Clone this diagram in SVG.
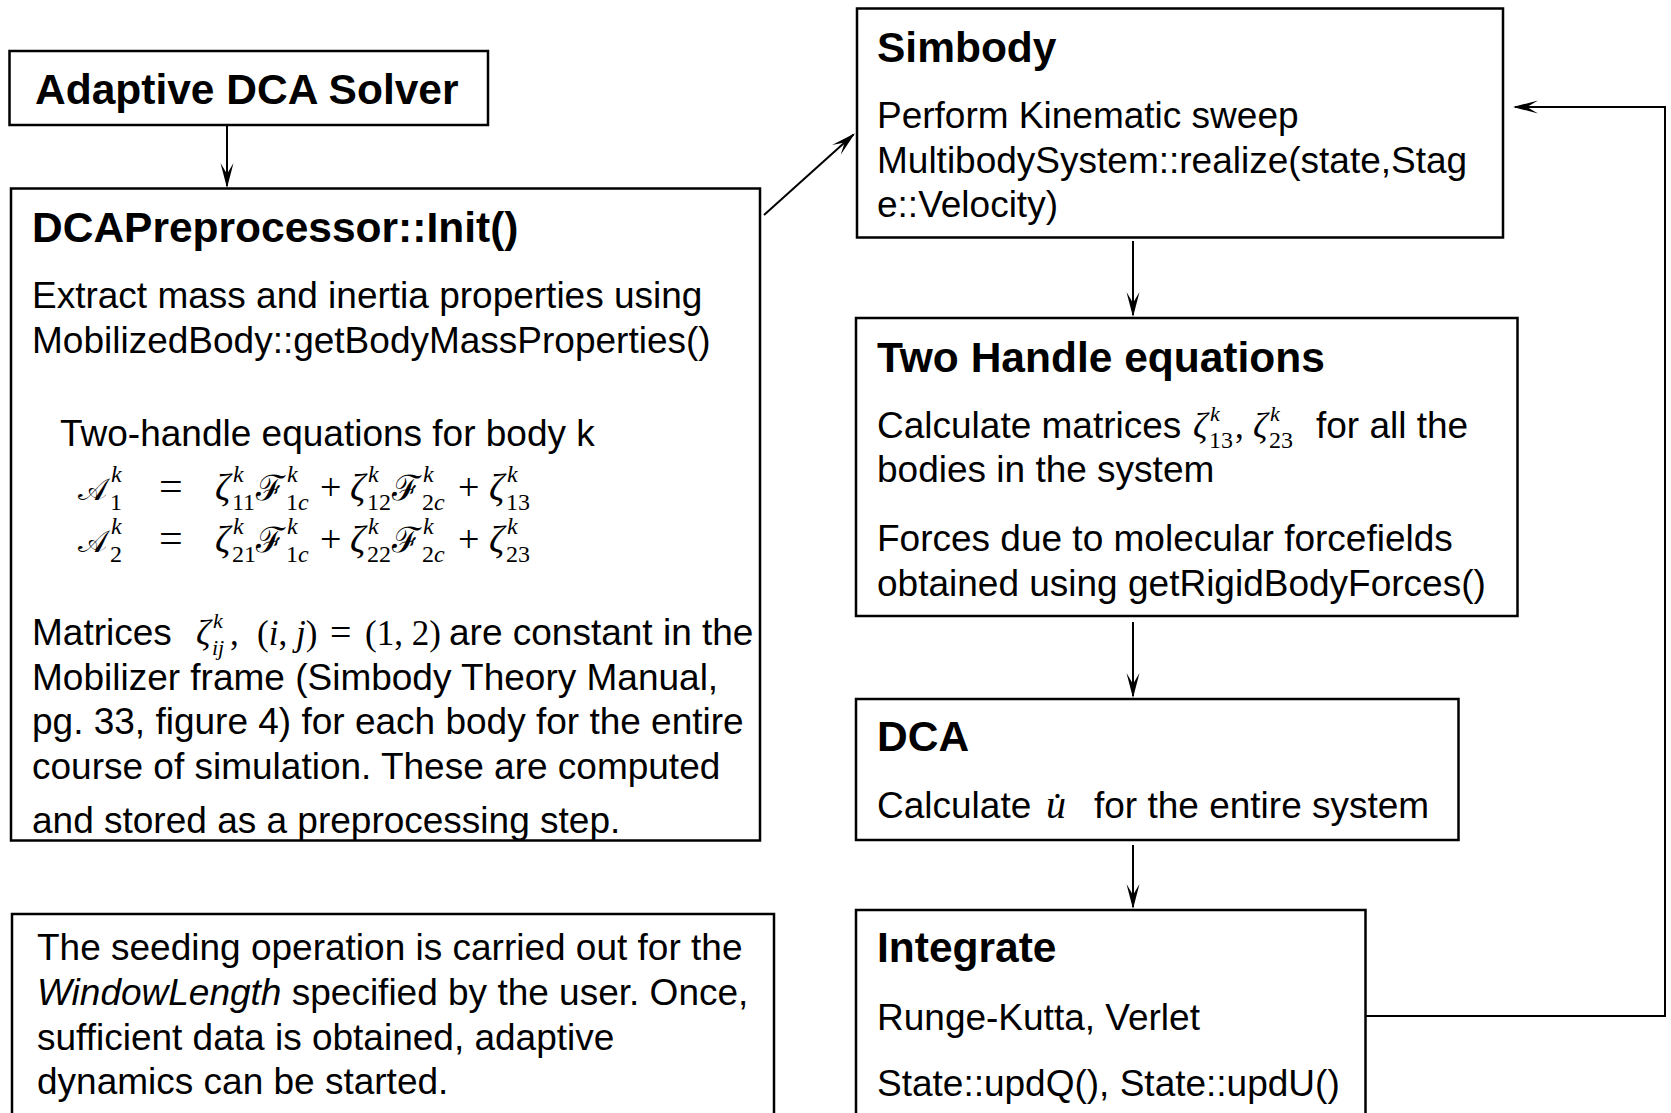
<svg xmlns="http://www.w3.org/2000/svg" width="1671" height="1113" viewBox="0 0 1671 1113">
<style>
.box{fill:#fff;stroke:#000;stroke-width:2.5}
.t{font-family:"Liberation Sans",Arial,sans-serif;font-weight:bold;font-size:42.5px;fill:#000}
.b{font-family:"Liberation Sans",Arial,sans-serif;font-size:37px;fill:#000}
.m{font-family:"Liberation Serif","DejaVu Serif",serif;font-size:36px;fill:#000}
.mi{font-family:"Liberation Serif","DejaVu Serif",serif;font-style:italic;font-size:38px;fill:#000}
.s{font-family:"Liberation Serif","DejaVu Serif",serif;font-size:24px;fill:#000}
.si{font-family:"Liberation Serif","DejaVu Serif",serif;font-style:italic;font-size:24px;fill:#000}
.cal{font-family:"DejaVu Serif","Noto Sans",serif;font-size:35px;fill:#000}
.conn{fill:none;stroke:#000;stroke-width:2;marker-end:url(#arr)}
</style>
<defs>
<marker id="arr" viewBox="-28 -8 30 16" refX="-2" refY="0" markerWidth="30" markerHeight="16" markerUnits="userSpaceOnUse" orient="auto">
<path d="M0,0 L-25,-6.5 L-14,0 L-25,6.5 Z" fill="#000"/>
</marker>
</defs>
<rect width="1671" height="1113" fill="#fff"/>

<g id="connectors">
<line class="conn" x1="227" y1="125" x2="227" y2="186"/>
<line class="conn" x1="764" y1="215" x2="853.5" y2="134.5"/>
<line class="conn" x1="1133" y1="241" x2="1133" y2="315"/>
<line class="conn" x1="1133" y1="622" x2="1133" y2="696"/>
<line class="conn" x1="1133" y1="845" x2="1133" y2="907"/>
<path class="conn" d="M1365,1016 H1665 V107 H1515"/>
</g>

<g id="adaptive-dca-solver">
<rect class="box" x="9.5" y="51" width="478.5" height="74"/>
<text class="t" x="35" y="104">Adaptive DCA Solver</text>
</g>

<g id="dca-preprocessor">
<rect class="box" x="11" y="188.5" width="749" height="652"/>
<text class="t" x="32" y="242">DCAPreprocessor::Init()</text>
<text class="b" x="32" y="308">Extract mass and inertia properties using</text>
<text class="b" x="32" y="353">MobilizedBody::getBodyMassProperties()</text>
<text class="b" x="60" y="446">Two-handle equations for body k</text>
<!-- row 1 -->
<text class="cal" x="78" y="500" style="font-size:31px">𝒜</text>
<text class="si" x="111" y="482">k</text>
<text class="s" x="110" y="510">1</text>
<text class="m" x="159" y="500" style="font-size:42px">=</text>
<text class="mi" x="215" y="500">ζ</text>
<text class="si" x="233" y="482">k</text>
<text class="s" x="232" y="510">11</text>
<text class="cal" x="256" y="500">ℱ</text>
<text class="si" x="287" y="482">k</text>
<text class="s" x="286" y="510">1<tspan class="si">c</tspan></text>
<text class="m" x="320" y="500" style="font-size:38px">+</text>
<text class="mi" x="350" y="500">ζ</text>
<text class="si" x="368" y="482">k</text>
<text class="s" x="367" y="510">12</text>
<text class="cal" x="392" y="500">ℱ</text>
<text class="si" x="423" y="482">k</text>
<text class="s" x="422" y="510">2<tspan class="si">c</tspan></text>
<text class="m" x="458" y="500" style="font-size:38px">+</text>
<text class="mi" x="489" y="500">ζ</text>
<text class="si" x="507" y="482">k</text>
<text class="s" x="506" y="510">13</text>
<!-- row 2 -->
<text class="cal" x="78" y="552" style="font-size:31px">𝒜</text>
<text class="si" x="111" y="534">k</text>
<text class="s" x="110" y="562">2</text>
<text class="m" x="159" y="552" style="font-size:42px">=</text>
<text class="mi" x="215" y="552">ζ</text>
<text class="si" x="233" y="534">k</text>
<text class="s" x="232" y="562">21</text>
<text class="cal" x="256" y="552">ℱ</text>
<text class="si" x="287" y="534">k</text>
<text class="s" x="286" y="562">1<tspan class="si">c</tspan></text>
<text class="m" x="320" y="552" style="font-size:38px">+</text>
<text class="mi" x="350" y="552">ζ</text>
<text class="si" x="368" y="534">k</text>
<text class="s" x="367" y="562">22</text>
<text class="cal" x="392" y="552">ℱ</text>
<text class="si" x="423" y="534">k</text>
<text class="s" x="422" y="562">2<tspan class="si">c</tspan></text>
<text class="m" x="458" y="552" style="font-size:38px">+</text>
<text class="mi" x="489" y="552">ζ</text>
<text class="si" x="507" y="534">k</text>
<text class="s" x="506" y="562">23</text>
<!-- matrices line -->
<text class="b" x="32" y="645">Matrices</text>
<text class="mi" x="196" y="645" style="font-size:36px">ζ</text>
<text class="si" x="213" y="628" style="font-size:22px">k</text>
<text class="si" x="212" y="655" style="font-size:22px">ij</text>
<text class="m" x="230" y="645" style="font-size:35px">,</text>
<text class="m" x="257" y="645" style="font-size:35px">(<tspan class="mi" style="font-size:35px">i</tspan>, <tspan class="mi" style="font-size:35px">j</tspan>)</text>
<text class="m" x="330" y="645" style="font-size:38px">=</text>
<text class="m" x="365" y="645" style="font-size:35px">(1, 2)</text>
<text class="b" x="449" y="645">are constant in the</text>
<text class="b" x="32" y="690">Mobilizer frame (Simbody Theory Manual,</text>
<text class="b" x="32" y="734">pg. 33, figure 4) for each body for the entire</text>
<text class="b" x="32" y="779">course of simulation. These are computed</text>
<text class="b" x="32" y="833">and stored as a preprocessing step.</text>
</g>

<g id="seeding-note">
<rect class="box" x="12" y="914" width="762" height="220"/>
<text class="b" x="37" y="960">The seeding operation is carried out for the</text>
<text class="b" x="37" y="1005"><tspan font-style="italic">WindowLength</tspan> specified by the user. Once,</text>
<text class="b" x="37" y="1050">sufficient data is obtained, adaptive</text>
<text class="b" x="37" y="1094">dynamics can be started.</text>
</g>

<g id="simbody">
<rect class="box" x="857" y="8.5" width="646" height="229"/>
<text class="t" x="877" y="62">Simbody</text>
<text class="b" x="877" y="128">Perform Kinematic sweep</text>
<text class="b" x="877" y="173">MultibodySystem::realize(state,Stag</text>
<text class="b" x="877" y="217">e::Velocity)</text>
</g>

<g id="two-handle">
<rect class="box" x="856" y="318" width="661.5" height="298"/>
<text class="t" x="877" y="372">Two Handle equations</text>
<text class="b" x="877" y="438">Calculate matrices</text>
<text class="mi" x="1193" y="438" style="font-size:36px">ζ</text>
<text class="si" x="1210" y="421" style="font-size:22px">k</text>
<text class="s" x="1209" y="448">13</text>
<text class="m" x="1235" y="438" style="font-size:35px">,</text>
<text class="mi" x="1253" y="438" style="font-size:36px">ζ</text>
<text class="si" x="1270" y="421" style="font-size:22px">k</text>
<text class="s" x="1269" y="448">23</text>
<text class="b" x="1316" y="438">for all the</text>
<text class="b" x="877" y="482">bodies in the system</text>
<text class="b" x="877" y="551">Forces due to molecular forcefields</text>
<text class="b" x="877" y="596">obtained using getRigidBodyForces()</text>
</g>

<g id="dca">
<rect class="box" x="856" y="699" width="602.5" height="141"/>
<text class="t" x="877" y="751">DCA</text>
<text class="b" x="877" y="818">Calculate</text>
<text class="mi" x="1046" y="818" style="font-size:40px">u̇</text>
<text class="b" x="1094" y="818">for the entire system</text>
</g>

<g id="integrate">
<rect class="box" x="856" y="910" width="509.5" height="220"/>
<text class="t" x="877" y="962">Integrate</text>
<text class="b" x="877" y="1030">Runge-Kutta, Verlet</text>
<text class="b" x="877" y="1096">State::updQ(), State::updU()</text>
</g>
</svg>
